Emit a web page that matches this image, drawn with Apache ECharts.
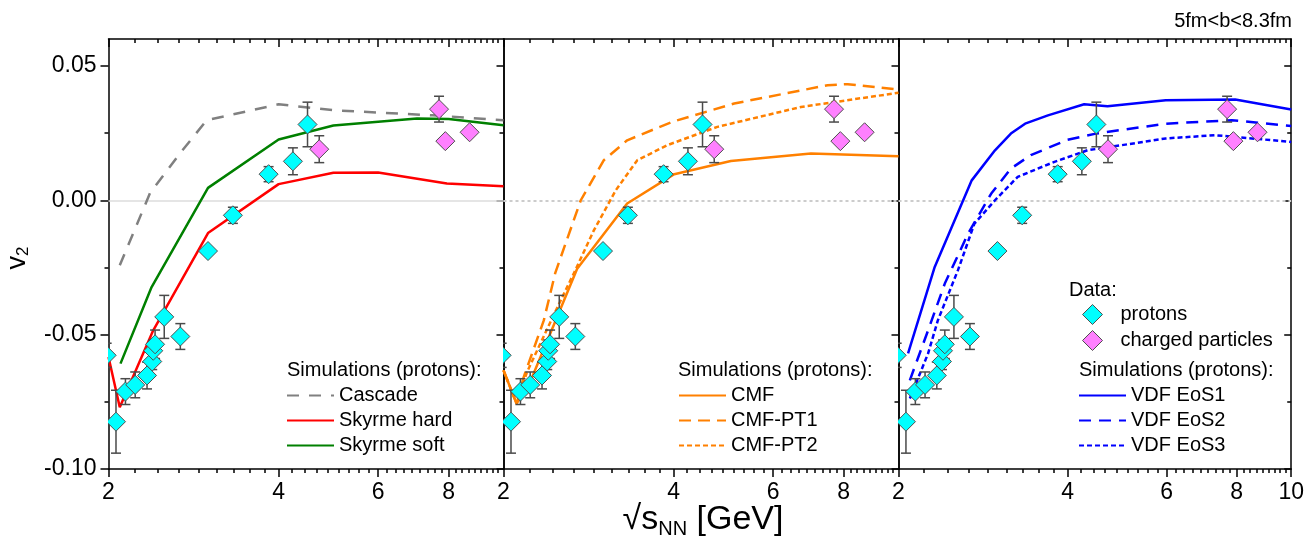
<!DOCTYPE html>
<html><head><meta charset="utf-8">
<script src="https://cdn.jsdelivr.net/npm/echarts@6/dist/echarts.min.js"></script>
<style>html,body{margin:0;padding:0;background:#fff}#c{width:1307px;height:543px}</style>
</head><body><div id="c"></div>
<script>
// ---------------- data ----------------
const xMajorTicks = [2, 4, 6, 8, 10];
const xLabelsInner = [2, 4, 6, 8];
const xLabelsLast = [2, 4, 6, 8, 10];
const yMajorTicks = [-0.10, -0.05, 0.00, 0.05];
const yMinorTicks = [-0.075, -0.025, 0.025];

const protonX   = [1.985, 2.062, 2.143, 2.23, 2.34, 2.39, 2.40, 2.418, 2.51, 2.68, 3.0, 3.32, 3.84, 4.24, 4.50];
const protonV2  = [-0.0577, -0.0824, -0.0712, -0.0687, -0.0652, -0.0600, -0.0560, -0.0536, -0.0434, -0.0507, -0.0189, -0.0056, 0.0097, 0.0145, 0.0282];
const protonErr = [0.0045, 0.0117, 0.0048, 0.0048, 0.0050, 0.0030, 0.0040, 0.0053, 0.0080, 0.0048, 0, 0.0030, 0.0028, 0.0050, 0.0083];

const chargedX   = [4.72, 7.69, 7.89, 8.71];
const chargedV2  = [0.0190, 0.0339, 0.0220, 0.0253];
const chargedErr = [0.0050, 0.0048, 0, 0];

const cascadeX  = [2.094, 2.368, 2.677, 2.985, 4.0, 5.0, 7.5, 10];
const cascadeV2 = [-0.0242, 0.0026, 0.0175, 0.0298, 0.0357, 0.0335, 0.0316, 0.0298];
const skHardX   = [2.0, 2.094, 2.4, 3.0, 4.0, 5.0, 6.0, 7.94, 10];
const skHardV2  = [-0.0583, -0.0770, -0.0484, -0.0122, 0.0060, 0.0102, 0.0103, 0.0062, 0.0052];
const skSoftX   = [2.1, 2.384, 3.0, 4.0, 5.0, 7.03, 8.0, 10];
const skSoftV2  = [-0.0608, -0.0323, 0.0046, 0.0226, 0.0278, 0.0304, 0.0302, 0.0279];

const cmfX   = [2.0, 2.11, 2.248, 2.70, 3.31, 4.01, 5.05, 7.0, 10];
const cmfV2  = [-0.0633, -0.0757, -0.0658, -0.0255, -0.0012, 0.0097, 0.0146, 0.0174, 0.0164];
const pt1X   = [2.0, 2.11, 2.17, 2.357, 2.47, 2.74, 3.01, 3.31, 3.98, 5.12, 7.49, 8.13, 10];
const pt1V2  = [-0.0633, -0.0757, -0.0660, -0.0447, -0.0270, 0.0000, 0.0149, 0.0223, 0.0292, 0.0360, 0.0428, 0.0432, 0.0412];
const pt2X   = [2.0, 2.11, 2.2, 2.45, 2.68, 2.89, 3.16, 3.45, 3.9, 4.78, 6.72, 10];
const pt2V2  = [-0.0633, -0.0757, -0.0640, -0.0430, -0.0260, -0.0112, 0.0037, 0.0149, 0.0205, 0.0273, 0.0347, 0.0400];

const eos1X  = [2.08, 2.32, 2.70, 2.97, 3.17, 3.36, 3.69, 4.28, 4.71, 5.98, 7.95, 10];
const eos1V2 = [-0.0570, -0.0248, 0.0074, 0.0186, 0.0248, 0.0285, 0.0316, 0.0357, 0.0350, 0.0372, 0.0375, 0.0338];
const eos2X  = [2.095, 2.258, 2.418, 2.66, 2.925, 3.17, 3.44, 4.0, 4.49, 5.98, 7.84, 10];
const eos2V2 = [-0.0670, -0.0484, -0.0310, -0.0124, 0.0025, 0.0118, 0.0168, 0.0225, 0.0248, 0.0285, 0.0298, 0.0276];
const eos3X  = [2.095, 2.258, 2.35, 2.552, 2.73, 2.97, 3.26, 3.79, 4.34, 4.75, 5.98, 7.33, 10];
const eos3V2 = [-0.0738, -0.0570, -0.0447, -0.0260, -0.0087, 0.0000, 0.0087, 0.0143, 0.0186, 0.0198, 0.0230, 0.0242, 0.0217];

// ---------------- layout / style ----------------
const FONT = 'Liberation Sans, Arial, Helvetica, sans-serif';
const L = Math.log10;
const zip = (xs, ys) => xs.map((x, i) => [L(x), ys[i]]);
const xMinor = [];
for (let a = 2; a < 10; a += 2) for (let k = 1; k <= 8; k++) xMinor.push(L(a + k * 2 / 9));

const panels = [
  { left: 108.5, sims: [
      { name: 'Cascade', x: cascadeX, y: cascadeV2, color: '#808080', type: [12, 10] },
      { name: 'Skyrme hard', x: skHardX, y: skHardV2, color: '#ff0000', type: 'solid' },
      { name: 'Skyrme soft', x: skSoftX, y: skSoftV2, color: '#008000', type: 'solid' }],
    legendLeft: 286, titleLeft: 287, zero: { color: '#dddddd', width: 1.5, type: 'solid' } },
  { left: 503.5, sims: [
      { name: 'CMF', x: cmfX, y: cmfV2, color: '#ff8000', type: 'solid' },
      { name: 'CMF-PT1', x: pt1X, y: pt1V2, color: '#ff8000', type: [12, 7] },
      { name: 'CMF-PT2', x: pt2X, y: pt2V2, color: '#ff8000', type: [5, 3] }],
    legendLeft: 678, titleLeft: 678, zero: { color: '#cccccc', width: 2, type: [3, 3] } },
  { left: 898.5, sims: [
      { name: 'VDF EoS1', x: eos1X, y: eos1V2, color: '#0000ff', type: 'solid' },
      { name: 'VDF EoS2', x: eos2X, y: eos2V2, color: '#0000ff', type: [12, 8] },
      { name: 'VDF EoS3', x: eos3X, y: eos3V2, color: '#0000ff', type: [5, 3] }],
    legendLeft: 1078, titleLeft: 1079, zero: { color: '#cccccc', width: 2, type: [3, 3] } }
];
const PW = 395, TOP = 39, PH = 430;
const axisLineStyle = { color: '#000', width: 1.5 };
const tickStyle = { color: '#000', width: 1.5 };
const noLine = { show: false, onZero: false };

const grids = [], xAxes = [], yAxes = [], series = [], legends = [], graphics = [];

function errRender(params, api) {
  const x = api.value(0);
  const top = api.coord([x, api.value(2)]);
  const bot = api.coord([x, api.value(1)]);
  const w = 5;
  const st = { stroke: '#4a4a4a', lineWidth: 1.5 };
  return { type: 'group', children: [
    { type: 'line', shape: { x1: top[0], y1: top[1], x2: bot[0], y2: bot[1] }, style: st },
    { type: 'line', shape: { x1: top[0] - w, y1: top[1], x2: top[0] + w, y2: top[1] }, style: st },
    { type: 'line', shape: { x1: bot[0] - w, y1: bot[1], x2: bot[0] + w, y2: bot[1] }, style: st }
  ]};
}
function diamondRender(fill) {
  return function (params, api) {
    const c = api.coord([api.value(0), api.value(1)]);
    const r = 9.5;
    return { type: 'polygon', shape: { points: [[c[0], c[1] - r], [c[0] + r, c[1]], [c[0], c[1] + r], [c[0] - r, c[1]]] },
      style: { fill: fill, stroke: '#505050', lineWidth: 1 } };
  };
}

panels.forEach((P, p) => {
  grids.push({ left: P.left, top: TOP, width: PW, height: PH, containLabel: false });
  const bx = { type: 'value', gridIndex: p, min: L(2), max: L(10), splitLine: { show: false },
    axisLine: { show: true, onZero: false, lineStyle: axisLineStyle } };
  xAxes.push(Object.assign({}, bx, { position: 'bottom',
    axisTick: { show: true, inside: false, length: 8, customValues: xMajorTicks.map(L), lineStyle: tickStyle },
    axisLabel: { show: true, customValues: (p === 2 ? xLabelsLast : xLabelsInner).map(L),
      formatter: v => String(Math.round(Math.pow(10, v))), fontSize: 23, color: '#000', fontFamily: FONT, margin: 12 } }));
  xAxes.push(Object.assign({}, bx, { position: 'bottom', axisLine: noLine,
    axisTick: { show: true, inside: false, length: 4, customValues: xMinor, lineStyle: tickStyle }, axisLabel: { show: false } }));
  xAxes.push(Object.assign({}, bx, { position: 'top',
    axisTick: { show: true, inside: true, length: 8, customValues: xMajorTicks.map(L), lineStyle: tickStyle }, axisLabel: { show: false } }));
  xAxes.push(Object.assign({}, bx, { position: 'top', axisLine: noLine,
    axisTick: { show: true, inside: true, length: 4, customValues: xMinor, lineStyle: tickStyle }, axisLabel: { show: false } }));

  const by = { type: 'value', gridIndex: p, min: -0.1, max: 0.06, splitLine: { show: false },
    axisLine: { show: true, onZero: false, lineStyle: axisLineStyle } };
  yAxes.push(Object.assign({}, by, { position: 'left',
    axisTick: { show: p === 0, inside: false, length: 8, customValues: yMajorTicks, lineStyle: tickStyle },
    axisLabel: { show: p === 0, customValues: yMajorTicks, formatter: v => v.toFixed(2),
      fontSize: 23, color: '#000', fontFamily: FONT, margin: 12 } }));
  yAxes.push(Object.assign({}, by, { position: 'left', axisLine: noLine,
    axisTick: { show: p === 0, inside: false, length: 4, customValues: yMinorTicks, lineStyle: tickStyle }, axisLabel: { show: false } }));
  yAxes.push(Object.assign({}, by, { position: 'right',
    axisTick: { show: true, inside: true, length: 7, customValues: yMajorTicks, lineStyle: tickStyle }, axisLabel: { show: false } }));
  yAxes.push(Object.assign({}, by, { position: 'right', axisLine: noLine,
    axisTick: { show: true, inside: true, length: 4, customValues: yMinorTicks, lineStyle: tickStyle }, axisLabel: { show: false } }));

  const xi = 4 * p, yi = 4 * p;
  P.sims.forEach((s, si) => {
    const ser = { type: 'line', name: s.name, xAxisIndex: xi, yAxisIndex: yi, data: zip(s.x, s.y),
      symbol: 'none', showSymbol: false, clip: true, silent: true, z: 3,
      lineStyle: { color: s.color, width: 2.5, type: s.type }, itemStyle: { color: s.color } };
    if (si === 0) {
      ser.markLine = { silent: true, symbol: 'none', label: { show: false }, z: 1,
        lineStyle: { color: P.zero.color, width: P.zero.width, type: P.zero.type }, data: [{ yAxis: 0 }] };
    }
    series.push(ser);
  });
  const errData = [];
  protonX.forEach((x, i) => { if (protonErr[i] > 0) errData.push([L(x), protonV2[i] - protonErr[i], protonV2[i] + protonErr[i]]); });
  chargedX.forEach((x, i) => { if (chargedErr[i] > 0) errData.push([L(x), chargedV2[i] - chargedErr[i], chargedV2[i] + chargedErr[i]]); });
  series.push({ type: 'custom', name: 'err' + p, xAxisIndex: xi, yAxisIndex: yi, clip: true, silent: true, z: 4,
    renderItem: errRender, data: errData });
  series.push({ type: 'custom', name: 'protons', xAxisIndex: xi, yAxisIndex: yi, clip: true, silent: true, z: 5,
    itemStyle: { color: '#00ffff' }, renderItem: diamondRender('#00ffff'), data: zip(protonX, protonV2) });
  series.push({ type: 'custom', name: 'charged particles', xAxisIndex: xi, yAxisIndex: yi, clip: true, silent: true, z: 5,
    itemStyle: { color: '#ff80ff' }, renderItem: diamondRender('#ff80ff'), data: zip(chargedX, chargedV2) });

  legends.push({ data: P.sims.map(s => s.name), left: P.legendLeft, top: 385.5, orient: 'vertical',
    itemWidth: 47, itemHeight: 14, itemGap: 5, padding: 0, selectedMode: false,
    itemStyle: { color: 'rgba(0,0,0,0)', borderColor: 'rgba(0,0,0,0)', borderWidth: 0, opacity: 0 },
    textStyle: { fontSize: 20, color: '#000', fontFamily: FONT } });
  graphics.push({ type: 'text', left: P.titleLeft, top: 360,
    style: { text: 'Simulations (protons):', fontSize: 20, fontFamily: FONT, fill: '#000' } });
});

legends.push({ data: [
    { name: 'protons', icon: 'diamond', itemStyle: { color: '#00ffff', borderColor: '#505050', borderWidth: 1 } },
    { name: 'charged particles', icon: 'diamond', itemStyle: { color: '#ff80ff', borderColor: '#505050', borderWidth: 1 } }],
  left: 1082, top: 304, orient: 'vertical', itemWidth: 20, itemHeight: 20, itemGap: 5, padding: 0, selectedMode: false,
  symbolKeepAspect: true,
  textStyle: { fontSize: 20, color: '#000', fontFamily: FONT, padding: [0, 0, 0, 13] } });
graphics.push({ type: 'text', left: 1069, top: 280, style: { text: 'Data:', fontSize: 20, fontFamily: FONT, fill: '#000' } });
graphics.push({ type: 'text', right: 15, top: 11, style: { text: '5fm<b<8.3fm', fontSize: 20, fontFamily: FONT, fill: '#000' } });
graphics.push({ type: 'text', x: 18, y: 258, rotation: Math.PI / 2,
  style: { text: '{m|v}{s|2}', align: 'center', verticalAlign: 'middle',
    rich: { m: { fontSize: 27, fontFamily: FONT, fill: '#000', lineHeight: 27 },
            s: { fontSize: 17, fontFamily: FONT, fill: '#000', lineHeight: 6, verticalAlign: 'bottom' } } } });
graphics.push({ type: 'text', x: 703, y: 521,
  style: { text: '{m|√s}{s|NN}{m| [GeV]}', align: 'center', verticalAlign: 'middle',
    rich: { m: { fontSize: 34, fontFamily: FONT, fill: '#000', lineHeight: 34, verticalAlign: 'top' },
            s: { fontSize: 20, fontFamily: FONT, fill: '#000', verticalAlign: 'top', padding: [17, 0, 0, 0] } } } });

const chart = echarts.init(document.getElementById('c'), null, { renderer: 'canvas' });
chart.setOption({
  animation: false, backgroundColor: '#fff',
  grid: grids, xAxis: xAxes, yAxis: yAxes, series: series, legend: legends, graphic: graphics
});
</script></body></html>
